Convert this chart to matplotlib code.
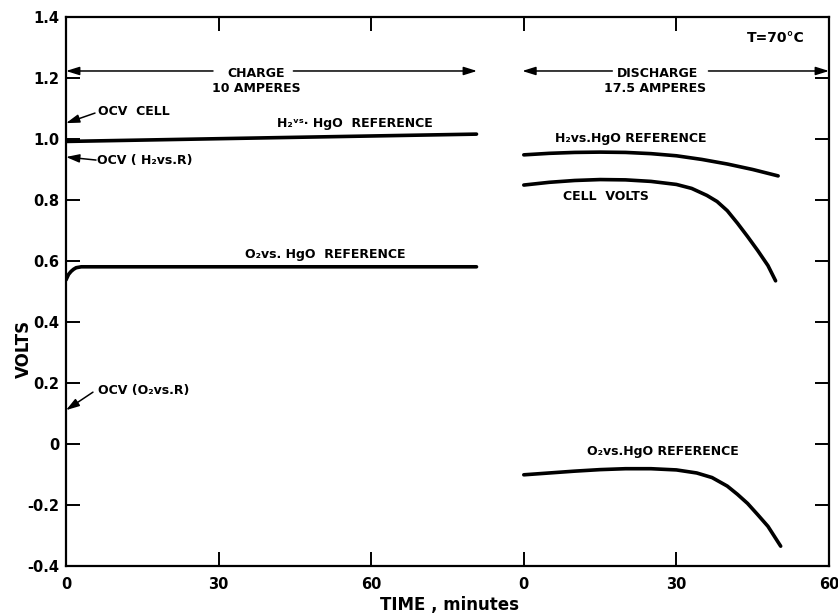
import matplotlib
matplotlib.use("Agg")
import matplotlib.pyplot as plt
import numpy as np

# ---- data -------------------------------------------------------------
# charge period (minutes) at 10 A
charge_h2_t = [0, 40, 80.7]
charge_h2_v = [0.992, 1.004, 1.016]

charge_o2_t = [0, 0.5, 1.0, 1.5, 2.0, 3.0, 40, 80.7]
charge_o2_v = [0.538, 0.556, 0.566, 0.573, 0.578, 0.581, 0.581, 0.581]

# discharge period (minutes) at 17.5 A
dis_h2_t = [0, 5, 10, 15, 20, 25, 30, 35, 40, 45, 50]
dis_h2_v = [0.948, 0.953, 0.956, 0.957, 0.956, 0.952, 0.945, 0.933, 0.918, 0.900, 0.879]

dis_cell_t = [0, 5, 10, 15, 20, 25, 30, 33, 36, 38, 40, 42, 44, 46, 48, 49.5]
dis_cell_v = [0.849, 0.858, 0.864, 0.867, 0.866, 0.861, 0.851, 0.838, 0.815, 0.795,
              0.765, 0.724, 0.680, 0.634, 0.585, 0.535]

dis_o2_t = [0, 5, 10, 15, 20, 25, 30, 34, 37, 40, 42, 44, 46, 48, 50.5]
dis_o2_v = [-0.101, -0.095, -0.089, -0.084, -0.081, -0.081, -0.085, -0.095, -0.110,
            -0.138, -0.165, -0.195, -0.232, -0.270, -0.335]

# open-circuit voltages marked on the volt axis
ocv_cell = 1.052
ocv_h2 = 0.941
ocv_o2 = 0.111

# ---- axes labels ------------------------------------------------------
discharge_start = 90          # discharge time origin on the shared time axis
x_ticks = [0, 30, 60, 90, 120, 150]
x_tick_labels = ["0", "30", "60", "0", "30", "60"]
y_ticks = [1.4, 1.2, 1.0, 0.8, 0.6, 0.4, 0.2, 0.0, -0.2, -0.4]
y_tick_labels = ["1.4", "1.2", "1.0", "0.8", "0.6", "0.4", "0.2", "0", "-0.2", "-0.4"]

plt.rcParams["font.family"] = ["DejaVu Sans"]

fig = plt.figure(figsize=(8.38, 6.16), dpi=100)
ax = fig.add_axes([66 / 838, 50 / 616, 763 / 838, 549 / 616])
ax.set_xlim(0, 150)
ax.set_ylim(-0.4, 1.4)

lw = 2.6
line_kw = dict(color="black", lw=lw, solid_capstyle="round")
ax.plot(charge_h2_t, charge_h2_v, **line_kw)
ax.plot(charge_o2_t, charge_o2_v, **line_kw)
ax.plot(np.array(dis_h2_t) + discharge_start, dis_h2_v, **line_kw)
ax.plot(np.array(dis_cell_t) + discharge_start, dis_cell_v, **line_kw)
ax.plot(np.array(dis_o2_t) + discharge_start, dis_o2_v, **line_kw)

# spines and ticks
for s in ax.spines.values():
    s.set_linewidth(1.6)
ax.set_xticks(x_ticks)
ax.set_xticklabels(x_tick_labels, fontsize=10.5, fontweight="bold")
ax.set_yticks(y_ticks)
ax.set_yticklabels(y_tick_labels, fontsize=10.5, fontweight="bold")
ax.tick_params(axis="both", direction="in", length=10, width=1.4,
               top=True, right=True, pad=5)
ax.tick_params(axis="x", pad=8)

ax.set_ylabel("VOLTS", fontsize=12, fontweight="bold")
ax.yaxis.set_label_coords(-0.043, 0.395)
ax.set_xlabel("TIME , minutes", fontsize=12, fontweight="bold")
ax.xaxis.set_label_coords(0.502, -0.0546)

tk = dict(fontsize=9, fontweight="bold", color="black")
arr = dict(arrowstyle="-|>,head_length=0.8,head_width=0.25", color="black", lw=1.1,
           shrinkA=0, shrinkB=0)

# charge / discharge span arrows
ax.annotate("", xy=(0, 1.223), xytext=(28.9, 1.223), arrowprops=arr)
ax.annotate("", xy=(80.8, 1.223), xytext=(44.7, 1.223), arrowprops=arr)
ax.text(37.4, 1.216, "CHARGE", ha="center", va="center", **tk)
ax.text(37.4, 1.164, "10 AMPERES", ha="center", va="center", **tk)

ax.annotate("", xy=(89.7, 1.223), xytext=(107.4, 1.223), arrowprops=arr)
ax.annotate("", xy=(150, 1.223), xytext=(126.3, 1.223), arrowprops=arr)
ax.text(116.3, 1.216, "DISCHARGE", ha="center", va="center", **tk)
ax.text(115.9, 1.164, "17.5 AMPERES", ha="center", va="center", **tk)

ax.text(139.5, 1.331, "T=70°C", ha="center", va="center", fontsize=10,
        fontweight="bold")

# curve labels
ax.text(41.5, 1.052, "H₂ᵛˢ· HgO  REFERENCE", ha="left", va="center", **tk)
ax.text(35.2, 0.620, "O₂vs. HgO  REFERENCE", ha="left", va="center", **tk)
ax.text(96.2, 1.003, "H₂vs.HgO REFERENCE", ha="left", va="center", **tk)
ax.text(97.8, 0.810, "CELL  VOLTS", ha="left", va="center", **tk)
ax.text(102.5, -0.026, "O₂vs.HgO REFERENCE", ha="left", va="center", **tk)

# open-circuit markers
ax.annotate("", xy=(0, ocv_cell), xytext=(5.7, 1.085), arrowprops=arr)
ax.text(6.3, 1.089, "OCV  CELL", ha="left", va="center", **tk)
ax.annotate("", xy=(0, ocv_h2), xytext=(5.9, 0.931), arrowprops=arr)
ax.text(6.1, 0.928, "OCV ( H₂vs.R)", ha="left", va="center", **tk)
ax.annotate("", xy=(0, ocv_o2), xytext=(5.3, 0.170), arrowprops=arr)
ax.text(6.3, 0.177, "OCV (O₂vs.R)", ha="left", va="center", **tk)

fig.savefig("out.png", dpi=100)
